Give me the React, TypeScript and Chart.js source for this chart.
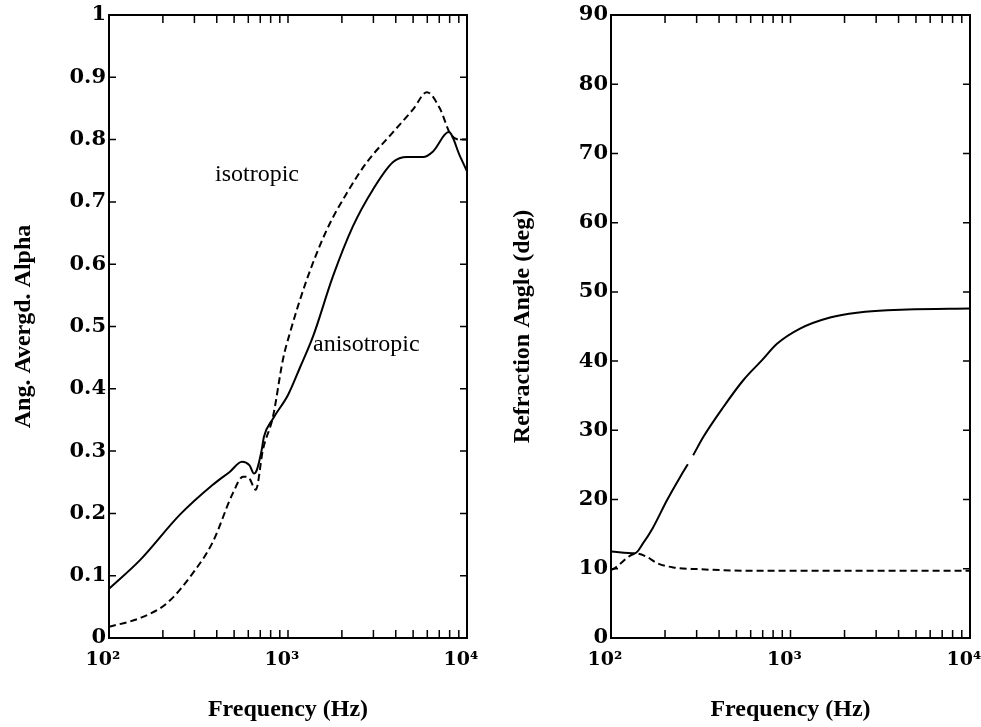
import React, { useEffect, useRef } from 'react';
import { Chart, registerables } from 'chart.js';

Chart.register(...registerables);

// ---------- data ----------
const alphaAnisoFreq = [100, 149, 249, 380, 474, 553, 610, 646, 670, 713, 734, 824, 1000, 1170, 1380, 1780, 2307, 2985, 3864, 4624, 5690, 6460, 7900, 9120, 10000];
const alphaAnisoValue = [0.079, 0.125, 0.198, 0.246, 0.267, 0.283, 0.277, 0.264, 0.27, 0.302, 0.323, 0.352, 0.39, 0.435, 0.484, 0.58, 0.661, 0.72, 0.764, 0.772, 0.772, 0.781, 0.812, 0.774, 0.749];

const alphaIsoFreq = [100, 149, 211, 294, 380, 493, 561, 600, 661, 724, 824, 937, 1026, 1276, 1652, 2140, 2763, 3864, 5010, 5970, 7080, 8040, 9000, 10000];
const alphaIsoValue = [0.018, 0.032, 0.056, 0.104, 0.154, 0.233, 0.259, 0.258, 0.238, 0.302, 0.355, 0.447, 0.49, 0.576, 0.656, 0.715, 0.764, 0.812, 0.849, 0.876, 0.849, 0.81, 0.80, 0.80];

const angleSolidFreq = [100, 136, 151, 171, 205, 242, 268, 278, 287, 326, 421, 544, 692, 841, 1130, 1660, 2344, 4466, 10000];
const angleSolidValue: (number | null)[] = [12.5, 12.25, 13.7, 15.9, 19.9, 23.2, 25.1, null, 26.4, 29.0, 33.3, 37.2, 40.1, 42.5, 44.7, 46.3, 47.0, 47.45, 47.6];

const angleDashFreq = [100, 105, 138, 159, 181, 222, 302, 650, 10000];
const angleDashValue = [9.8, 10.1, 12.2, 11.7, 10.8, 10.2, 9.95, 9.7, 9.7];

const xTickValues = [100, 200, 300, 400, 500, 600, 700, 800, 900, 1000, 2000, 3000, 4000, 5000, 6000, 7000, 8000, 9000, 10000];
const xTickLabels: Record<number, string> = { 100: '10²', 1000: '10³', 10000: '10⁴' };

const leftNoteText = ['isotropic', 'anisotropic'];
const leftNoteFreq = [391, 1380];
const leftNoteValue = [0.733, 0.461];

// ---------- helpers ----------
const toPoints = (xs: number[], ys: (number | null)[]) => xs.map((x, i) => ({ x, y: ys[i] }));

const framePlugin = {
  id: 'frameTicks',
  afterDraw(chart: any, _args: any, opts: any) {
    const { ctx, chartArea: a, scales } = chart;
    ctx.save();
    ctx.strokeStyle = '#000';
    ctx.lineWidth = 1.5;
    ctx.beginPath();
    for (const t of scales.x.ticks) {
      const px = scales.x.getPixelForValue(t.value);
      ctx.moveTo(px, a.bottom);
      ctx.lineTo(px, a.bottom - 8);
      ctx.moveTo(px, a.top);
      ctx.lineTo(px, a.top + 8);
    }
    for (const t of scales.y.ticks) {
      const py = scales.y.getPixelForValue(t.value);
      ctx.moveTo(a.left, py);
      ctx.lineTo(a.left + 7, py);
      ctx.moveTo(a.right, py);
      ctx.lineTo(a.right - 7, py);
    }
    ctx.stroke();
    ctx.lineWidth = 2;
    ctx.strokeRect(a.left, a.top, a.right - a.left, a.bottom - a.top);
    const notes = (opts && opts.notes) || [];
    ctx.fillStyle = '#000';
    ctx.font = '24px "Liberation Serif", serif';
    ctx.textAlign = 'left';
    ctx.textBaseline = 'alphabetic';
    for (const n of notes) {
      ctx.fillText(n.text, scales.x.getPixelForValue(n.x), scales.y.getPixelForValue(n.y));
    }
    ctx.restore();
  },
};

type PanelProps = {
  left: number;
  width: number;
  yWidth: number;
  padRight: number;
  yMax: number;
  yStep: number;
  yTitle: string;
  yTitlePad: number;
  datasets: any[];
  notes: { text: string; x: number; y: number }[];
};

function Panel(p: PanelProps) {
  const ref = useRef<HTMLCanvasElement | null>(null);
  useEffect(() => {
    if (!ref.current) return;
    const tickFont = { family: '"DejaVu Serif", serif', size: 21, weight: 'bold' as const };
    const xTickFont = { family: '"DejaVu Serif", serif', size: 19, weight: 'bold' as const };
    const titleFont = { family: '"Liberation Serif", serif', size: 24, weight: 'bold' as const };
    const chart = new Chart(ref.current, {
      type: 'scatter',
      data: { datasets: p.datasets },
      plugins: [framePlugin],
      options: {
        responsive: false,
        animation: false,
        devicePixelRatio: 1,
        layout: { padding: { top: 15, right: p.padRight, bottom: 0, left: 0 } },
        plugins: {
          legend: { display: false },
          tooltip: { enabled: false },
          frameTicks: { notes: p.notes },
        } as any,
        scales: {
          x: {
            type: 'logarithmic',
            min: 100,
            max: 10000,
            afterBuildTicks: (s: any) => {
              s.ticks = xTickValues.map((v) => ({ value: v }));
            },
            afterFit: (s: any) => {
              s.height = 89;
              s.paddingLeft = 0;
              s.paddingRight = 0;
            },
            ticks: {
              autoSkip: false,
              maxRotation: 0,
              minRotation: 0,
              padding: 11,
              labelOffset: -6,
              color: '#000',
              font: xTickFont,
              callback: (v: any) => xTickLabels[Number(v)] || '',
            },
            grid: { display: false, drawTicks: false },
            border: { display: false },
            title: {
              display: true,
              text: 'Frequency (Hz)',
              color: '#000',
              font: titleFont,
              padding: { top: 0, bottom: 3 },
            },
          },
          y: {
            type: 'linear',
            min: 0,
            max: p.yMax,
            afterFit: (s: any) => {
              s.width = p.yWidth;
              s.paddingTop = 0;
              s.paddingBottom = 0;
            },
            ticks: {
              stepSize: p.yStep,
              padding: 3,
              color: '#000',
              font: tickFont,
              callback: (v: any) => String(Number(Number(v).toFixed(1))),
            },
            grid: { display: false, drawTicks: false },
            border: { display: false },
            title: {
              display: true,
              text: p.yTitle,
              color: '#000',
              font: titleFont,
              padding: { top: p.yTitlePad, bottom: 0 },
            },
          },
        },
      } as any,
    });
    return () => chart.destroy();
  }, []);
  return (
    <div style={{ position: 'absolute', left: p.left, top: 0 }}>
      <canvas ref={ref} width={p.width} height={727} style={{ display: 'block' }} />
    </div>
  );
}

const solidStyle = {
  showLine: true,
  borderColor: '#000',
  borderWidth: 2,
  pointRadius: 0,
  cubicInterpolationMode: 'monotone',
  spanGaps: false,
};
const dashStyle = { ...solidStyle, borderDash: [7, 4] };

export default function App() {
  const leftSets = [
    { ...solidStyle, label: 'anisotropic', data: toPoints(alphaAnisoFreq, alphaAnisoValue) },
    { ...dashStyle, label: 'isotropic', data: toPoints(alphaIsoFreq, alphaIsoValue) },
  ];
  const rightSets = [
    { ...solidStyle, label: 'solid', data: toPoints(angleSolidFreq, angleSolidValue) },
    { ...dashStyle, label: 'dashed', data: toPoints(angleDashFreq, angleDashValue) },
  ];
  const notes = leftNoteText.map((t, i) => ({ text: t, x: leftNoteFreq[i], y: leftNoteValue[i] }));
  return (
    <div style={{ position: 'absolute', left: 0, top: 0, width: 981, height: 727, overflow: 'hidden', background: '#fff' }}>
      <Panel left={0} width={490} yWidth={109} padRight={23} yMax={1} yStep={0.1} yTitle="Ang. Avergd. Alpha" yTitlePad={9} datasets={leftSets} notes={notes} />
      <Panel left={490} width={491} yWidth={121} padRight={11} yMax={90} yStep={10} yTitle="Refraction Angle (deg)" yTitlePad={18} datasets={rightSets} notes={[]} />
    </div>
  );
}
